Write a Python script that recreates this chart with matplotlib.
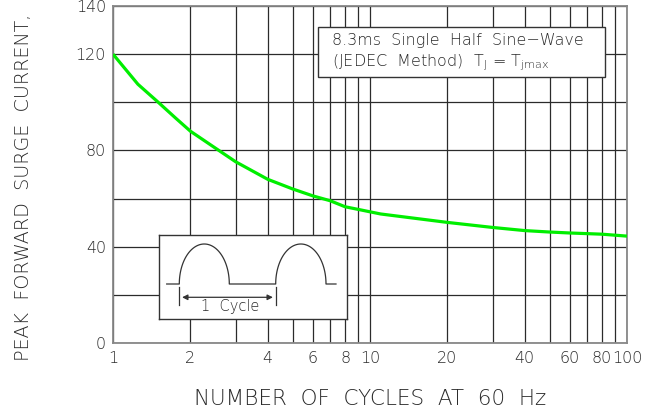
import numpy as np
import matplotlib
matplotlib.use("Agg")
import matplotlib.pyplot as plt
from matplotlib.patches import Rectangle, FancyArrowPatch

# surge curve
cycles = [1, 1.25, 1.5, 1.75, 2, 2.5, 3, 4, 5, 6, 7, 8, 9, 10, 11, 20, 30, 40, 50, 60, 80, 100]
current = [120, 107.5, 100, 93.5, 88, 81, 75.3, 68, 64, 61.1, 59.1, 56.6, 55.5, 54.5, 53.6,
           50.1, 48, 46.7, 46.1, 45.7, 45.2, 44.4]

x_grid = [1, 2, 3, 4, 5, 6, 7, 8, 9, 10, 20, 30, 40, 50, 60, 70, 80, 90, 100]
x_labels = {1: "1", 2: "2", 4: "4", 6: "6", 8: "8", 10: "10", 20: "20",
            40: "40", 60: "60", 80: "80", 100: "100"}
y_grid = [0, 20, 40, 60, 80, 100, 120, 140]
y_labels = {0: "0", 40: "40", 80: "80", 120: "120", 140: "140"}

plt.rcParams['font.family'] = ['DejaVu Sans']
plt.rcParams['font.weight'] = 'light'
plt.rcParams['axes.labelweight'] = 'light'
TXT = '#2a2a2a'

W, H = 655, 412
fig = plt.figure(figsize=(W / 100, H / 100), dpi=100)
ax = fig.add_axes([113 / W, (H - 343) / H, 514 / W, 337 / H])

ax.plot(cycles, current, color='#00ee00', lw=2.3, zorder=3, solid_capstyle='butt')

ax.set_xscale('log')
ax.set_xlim(1, 100)
ax.set_ylim(0, 140)
ax.set_xticks(x_grid)
ax.set_xticklabels([x_labels.get(v, "") for v in x_grid])
ax.xaxis.set_minor_locator(matplotlib.ticker.NullLocator())
ax.set_yticks(y_grid)
ax.set_yticklabels([y_labels.get(v, "") for v in y_grid])
ax.tick_params(length=0, labelsize=11.5, colors=TXT)
ax.tick_params(axis='x', pad=6)
ax.tick_params(axis='y', pad=5)
ax.grid(True, color='#2b2b2b', lw=0.9)
for s in ax.spines.values():
    s.set_color('#888888')
    s.set_linewidth(1.3)

ax.set_xlabel("NUMBER  OF  CYCLES  AT  60  Hz", fontsize=15.5, color=TXT, labelpad=16,
              fontweight='light')
fig.text(24 / W, 1 - 361 / H, "PEAK  FORWARD  SURGE  CURRENT,", rotation=90,
         ha='center', va='bottom', fontsize=13.8, color=TXT)

# note box
ax.add_patch(Rectangle((0.398, 0.7884), 0.559, 0.1502, transform=ax.transAxes,
                       facecolor='white', edgecolor='#333333', lw=1.0, zorder=4))
ax.text(0.4255, 0.899, "8.3ms  Single  Half  Sine\u2212Wave", transform=ax.transAxes,
        fontsize=11.5, va='center', ha='left', color=TXT, zorder=5)
ax.text(0.4255, 0.831, r"(JEDEC  Method)  T$_\mathregular{J}$ = T$_\mathregular{jmax}$",
        transform=ax.transAxes, fontsize=11.5, va='center', ha='left', color=TXT, zorder=5)

# inset sketch of the wave
ins = fig.add_axes([158.7 / W, (H - 319) / H, 188.6 / W, 84 / H])
ins.set_xlim(158.7, 347.3)
ins.set_ylim(319, 235)
ins.set_xticks([])
ins.set_yticks([])
for s in ins.spines.values():
    s.set_color('#333333')
    s.set_linewidth(1.0)

base, peak = 284, 244
humps = [(179.3, 229.3), (275.7, 326)]
t = np.linspace(np.pi, 0, 60)
wx, wy = [166.7], [base]
for a, b in humps:
    cx, rx = (a + b) / 2, (b - a) / 2
    wx += list(cx + rx * np.cos(t))
    wy += list(base - (base - peak) * np.sin(t))
wx.append(336)
wy.append(base)
ins.plot(wx, wy, color='#333333', lw=0.9)
for xv in (179.3, 275.7):
    ins.plot([xv, xv], [286.7, 305], color='#333333', lw=0.9)
ins.add_patch(FancyArrowPatch((179.3, 297.3), (275.7, 297.3), arrowstyle='<|-|>',
                              mutation_scale=8, color='#333333', lw=0.9))
ins.text(230.5, 306, "1  Cycle", ha='center', va='center', fontsize=10.5, color=TXT,
         bbox=dict(facecolor='white', edgecolor='none', pad=0.5))

fig.savefig("out.png", dpi=100)
